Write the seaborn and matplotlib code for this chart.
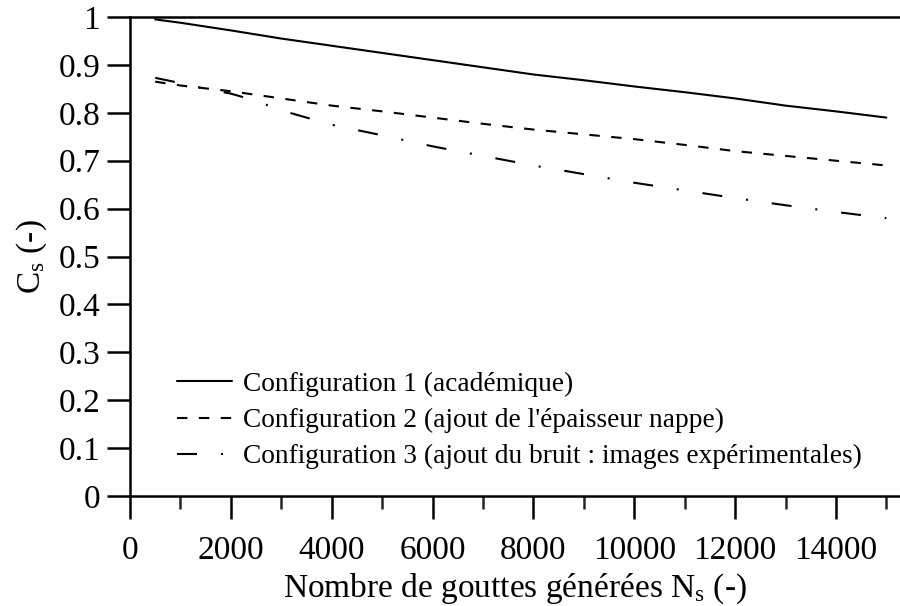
import numpy as np
import pandas as pd
import matplotlib
matplotlib.use("Agg")
import matplotlib.pyplot as plt
import seaborn as sns
from matplotlib.ticker import MultipleLocator

# ---- data ----
x_conf1 = [500, 1000, 2000, 3000, 4000, 5000, 6000, 7000, 8000, 9000, 10000, 11000, 12000, 13000, 14000, 15000]
y_conf1 = [0.995, 0.988, 0.972, 0.955, 0.940, 0.925, 0.910, 0.895, 0.880, 0.868, 0.855, 0.843, 0.830, 0.815, 0.803, 0.790]

x_conf2 = [500, 1000, 2000, 3000, 4000, 5000, 6000, 7000, 8000, 9000, 10000, 11000, 12000, 13000, 14000, 15000]
y_conf2 = [0.865, 0.857, 0.845, 0.830, 0.815, 0.803, 0.790, 0.777, 0.765, 0.755, 0.745, 0.733, 0.720, 0.710, 0.700, 0.690]

x_conf3 = [500, 1000, 1500, 2000, 2500, 3000, 3500, 4000, 5000, 6000, 7000, 8000, 9000, 10000, 11000, 12000, 13000, 14000, 15000]
y_conf3 = [0.873, 0.862, 0.850, 0.840, 0.825, 0.805, 0.790, 0.775, 0.753, 0.730, 0.710, 0.690, 0.672, 0.654, 0.638, 0.622, 0.607, 0.593, 0.580]

labels = ["Configuration 1 (académique)",
          "Configuration 2 (ajout de l'épaisseur nappe)",
          "Configuration 3 (ajout du bruit : images expérimentales)"]

x_ticks = [0, 2000, 4000, 6000, 8000, 10000, 12000, 14000]
y_ticks = [0, 0.1, 0.2, 0.3, 0.4, 0.5, 0.6, 0.7, 0.8, 0.9, 1]
y_ticklabels = ["0", "0.1", "0.2", "0.3", "0.4", "0.5", "0.6", "0.7", "0.8", "0.9", "1"]

# ---- style ----
sns.set_theme(style="white")
plt.rcParams["font.family"] = ["Liberation Serif", "DejaVu Serif"]
plt.rcParams["mathtext.fontset"] = "custom"
plt.rcParams["mathtext.rm"] = "Liberation Serif"
plt.rcParams["mathtext.it"] = "Liberation Serif"

fig = plt.figure(figsize=(9.0, 6.06), dpi=100)
ax = fig.add_axes([130 / 900, (606 - 496) / 606, 770 / 900, (496 - 17) / 606])

df1 = pd.DataFrame({"x": x_conf1, "y": y_conf1})
df2 = pd.DataFrame({"x": x_conf2, "y": y_conf2})
df3 = pd.DataFrame({"x": x_conf3, "y": y_conf3})

lw = 1.5
sns.lineplot(data=df1, x="x", y="y", ax=ax, color="black", lw=lw, linestyle="-", label=labels[0])
sns.lineplot(data=df2, x="x", y="y", ax=ax, color="black", lw=lw, linestyle=(0, (5, 5.5)), label=labels[1])
sns.lineplot(data=df3, x="x", y="y", ax=ax, color="black", lw=lw, linestyle=(0, (9.6, 11.5, 1, 11.5)), label=labels[2])

ax.set_xlim(0, 15270)
ax.set_ylim(0, 1)

ax.set_xticks(x_ticks)
ax.set_xticklabels([str(t) for t in x_ticks])
ax.xaxis.set_minor_locator(MultipleLocator(1000))
ax.set_yticks(y_ticks)
ax.set_yticklabels(y_ticklabels)

for side in ["left", "bottom", "top"]:
    ax.spines[side].set_visible(True)
    ax.spines[side].set_color("black")
    ax.spines[side].set_linewidth(1.8)
ax.spines["right"].set_visible(False)

ax.tick_params(axis="both", which="major", direction="out", length=16.5, width=1.8,
               colors="black", labelsize=24, bottom=True, left=True, top=False, right=False)
ax.tick_params(axis="x", which="minor", direction="out", length=9, width=1.8, bottom=True)
ax.tick_params(axis="x", which="major", pad=12)
ax.tick_params(axis="y", which="major", pad=5)

ax.set_xlabel(r"Nombre de gouttes générées N$_{\mathrm{s}}$ (-)", fontsize=24, color="black", labelpad=4)
ax.set_ylabel(r"C$_{\mathrm{s}}$ (-)", fontsize=24, color="black", labelpad=7)

leg = ax.legend(loc="lower left", bbox_to_anchor=(0.061, 0.056), frameon=False, fontsize=19.7,
                handlelength=2.0, handletextpad=0.43, labelspacing=0.4, borderaxespad=0,
                borderpad=0)
for t in leg.get_texts():
    t.set_color("black")

fig.savefig("out.png", dpi=100)
